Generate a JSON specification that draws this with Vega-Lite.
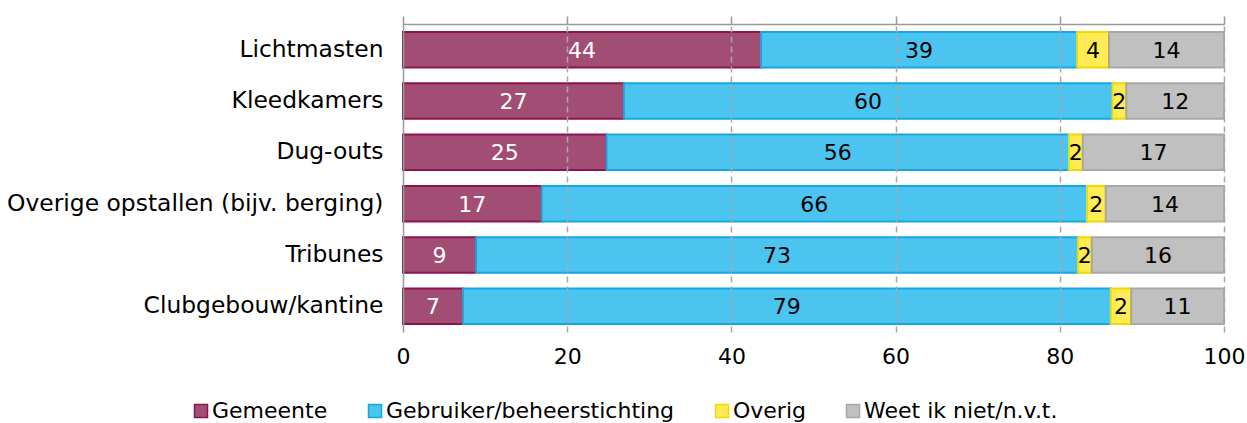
{
  "$schema": "https://vega.github.io/schema/vega-lite/v6.json",
  "autosize": "none",
  "width": 821,
  "height": 308,
  "padding": {"left": 403, "top": 24, "right": 23, "bottom": 91},
  "config": {"font": "DejaVu Sans", "view": {"stroke": null}},
  "data": {
    "values": [
      {"cat": "Lichtmasten", "series": "Gemeente", "i": 1, "value": 43.6, "label": "44"},
      {"cat": "Lichtmasten", "series": "Gebruiker/beheerstichting", "i": 2, "value": 38.5, "label": "39"},
      {"cat": "Lichtmasten", "series": "Overig", "i": 3, "value": 3.9, "label": "4"},
      {"cat": "Lichtmasten", "series": "Weet ik niet/n.v.t.", "i": 4, "value": 14.0, "label": "14"},
      {"cat": "Kleedkamers", "series": "Gemeente", "i": 1, "value": 26.9, "label": "27"},
      {"cat": "Kleedkamers", "series": "Gebruiker/beheerstichting", "i": 2, "value": 59.5, "label": "60"},
      {"cat": "Kleedkamers", "series": "Overig", "i": 3, "value": 1.7, "label": "2"},
      {"cat": "Kleedkamers", "series": "Weet ik niet/n.v.t.", "i": 4, "value": 11.9, "label": "12"},
      {"cat": "Dug-outs", "series": "Gemeente", "i": 1, "value": 24.8, "label": "25"},
      {"cat": "Dug-outs", "series": "Gebruiker/beheerstichting", "i": 2, "value": 56.3, "label": "56"},
      {"cat": "Dug-outs", "series": "Overig", "i": 3, "value": 1.7, "label": "2"},
      {"cat": "Dug-outs", "series": "Weet ik niet/n.v.t.", "i": 4, "value": 17.2, "label": "17"},
      {"cat": "Overige opstallen (bijv. berging)", "series": "Gemeente", "i": 1, "value": 16.9, "label": "17"},
      {"cat": "Overige opstallen (bijv. berging)", "series": "Gebruiker/beheerstichting", "i": 2, "value": 66.4, "label": "66"},
      {"cat": "Overige opstallen (bijv. berging)", "series": "Overig", "i": 3, "value": 2.3, "label": "2"},
      {"cat": "Overige opstallen (bijv. berging)", "series": "Weet ik niet/n.v.t.", "i": 4, "value": 14.4, "label": "14"},
      {"cat": "Tribunes", "series": "Gemeente", "i": 1, "value": 8.9, "label": "9"},
      {"cat": "Tribunes", "series": "Gebruiker/beheerstichting", "i": 2, "value": 73.3, "label": "73"},
      {"cat": "Tribunes", "series": "Overig", "i": 3, "value": 1.7, "label": "2"},
      {"cat": "Tribunes", "series": "Weet ik niet/n.v.t.", "i": 4, "value": 16.1, "label": "16"},
      {"cat": "Clubgebouw/kantine", "series": "Gemeente", "i": 1, "value": 7.3, "label": "7"},
      {"cat": "Clubgebouw/kantine", "series": "Gebruiker/beheerstichting", "i": 2, "value": 78.9, "label": "79"},
      {"cat": "Clubgebouw/kantine", "series": "Overig", "i": 3, "value": 2.5, "label": "2"},
      {"cat": "Clubgebouw/kantine", "series": "Weet ik niet/n.v.t.", "i": 4, "value": 11.3, "label": "11"}
    ]
  },
  "transform": [
    {"stack": "value", "groupby": ["cat"], "sort": [{"field": "i", "order": "ascending"}], "as": ["v0", "v1"]},
    {"calculate": "(datum.v0 + datum.v1) / 2", "as": "mid"}
  ],
  "encoding": {
    "y": {
      "field": "cat",
      "type": "nominal",
      "sort": ["Lichtmasten", "Kleedkamers", "Dug-outs", "Overige opstallen (bijv. berging)", "Tribunes", "Clubgebouw/kantine"],
      "scale": {"paddingInner": 0.31, "paddingOuter": 0.155},
      "axis": {"title": null, "domain": true, "domainColor": "#999999", "domainWidth": 1.5, "ticks": false, "zindex": 1, "labelFontSize": 23.4, "labelColor": "#000000", "labelPadding": 20, "labelLimit": 500}
    }
  },
  "resolve": {"axis": {"x": "independent"}},
  "layer": [
    {
      "mark": {"type": "bar", "strokeWidth": 2},
      "encoding": {
        "x": {
          "field": "v0", "type": "quantitative",
          "scale": {"domain": [0, 100], "nice": false},
          "axis": {"orient": "bottom", "title": null, "values": [0, 20, 40, 60, 80, 100], "domain": false, "ticks": false, "grid": true, "gridDash": [6, 4], "gridColor": {"condition": {"test": "datum.value === 0", "value": "transparent"}, "value": "#a8a8a8"}, "gridWidth": 1.5, "zindex": 1, "labelFontSize": 22, "labelColor": "#000000", "labelPadding": 14, "labelFlush": false}
        },
        "x2": {"field": "v1"},
        "color": {
          "field": "series", "type": "nominal",
          "scale": {"domain": ["Gemeente", "Gebruiker/beheerstichting", "Overig", "Weet ik niet/n.v.t."], "range": ["#A24D74", "#4CC4F0", "#FFEB55", "#C0C0C0"]},
          "legend": {"title": null, "orient": "none", "legendX": -213, "legendY": 376, "direction": "horizontal", "symbolType": "square", "symbolSize": 169, "symbolStrokeWidth": 1.5, "labelFontSize": 22, "labelColor": "#000000", "labelOffset": 0, "columnPadding": 36, "labelLimit": 400}
        },
        "stroke": {
          "field": "series", "type": "nominal",
          "scale": {"domain": ["Gemeente", "Gebruiker/beheerstichting", "Overig", "Weet ik niet/n.v.t."], "range": ["#8C1450", "#14A8E0", "#F0D800", "#A8A8A8"]},
          "legend": null
        }
      }
    },
    {
      "mark": {"type": "text", "fontSize": 22, "align": "center", "baseline": "middle", "dy": 1},
      "encoding": {
        "x": {
          "field": "mid", "type": "quantitative",
          "scale": {"domain": [0, 100], "nice": false},
          "axis": {"orient": "top", "title": null, "values": [0, 20, 40, 60, 80, 100], "labels": false, "grid": false, "domain": true, "domainColor": "#999999", "domainWidth": 1.5, "ticks": true, "tickSize": 8, "tickColor": "#999999", "tickWidth": 1.5}
        },
        "text": {"field": "label"},
        "color": {"condition": {"test": "datum.series === 'Gemeente'", "value": "#ffffff"}, "value": "#000000"}
      }
    }
  ]
}
